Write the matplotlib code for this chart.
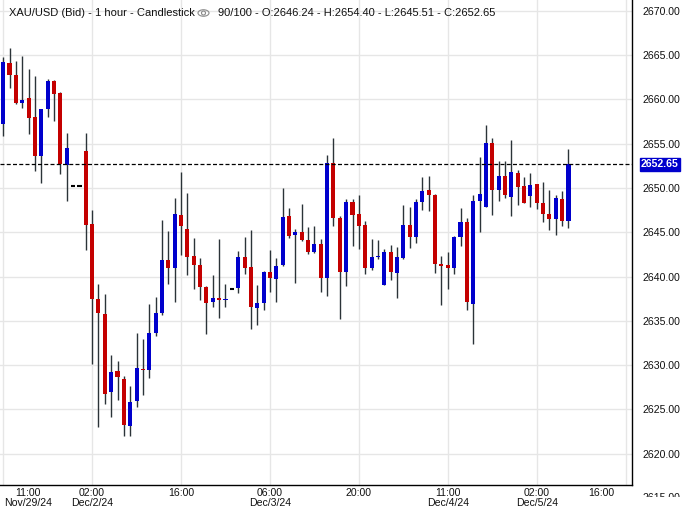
import matplotlib
matplotlib.use("Agg")
import matplotlib.pyplot as plt
from matplotlib.patches import Ellipse, Circle
from matplotlib.transforms import IdentityTransform, Bbox, ScaledTranslation, blended_transform_factory

plt.rcParams['font.family'] = ['Liberation Sans', 'DejaVu Sans']

# ---- data (1 hour candles, XAU/USD bid) ----
opens = [2657.24, 2664.10, 2662.74, 2659.57, 2660.14, 2657.99, 2653.62, 2658.93, 2662.06, 2660.74,
         2652.64, 2650.27, 2650.27, 2654.15, 2645.90, 2637.42, 2635.72, 2626.94, 2629.39, 2628.49,
         2623.10, 2625.93, 2629.55, 2629.43, 2633.61, 2635.87, 2641.83, 2640.96, 2646.91, 2645.33,
         2642.28, 2641.26, 2638.78, 2637.12, 2637.53, 2637.38, 2638.62, 2638.66, 2642.17, 2641.04,
         2636.44, 2637.00, 2640.47, 2639.72, 2641.26, 2646.80, 2644.65, 2644.99, 2644.09, 2642.77,
         2643.64, 2639.83, 2652.79, 2646.57, 2640.51, 2648.38, 2647.03, 2645.78, 2640.96, 2642.20,
         2639.04, 2642.73, 2640.40, 2642.09, 2645.78, 2644.46, 2648.38, 2649.74, 2649.17, 2641.36,
         2641.26, 2640.92, 2644.46, 2646.12, 2636.89, 2648.50, 2647.82, 2655.05, 2649.74, 2651.32,
         2648.95, 2651.66, 2650.19, 2649.06, 2650.42, 2648.27, 2647.03, 2646.46, 2648.72, 2646.24]
highs = [2664.77, 2665.79, 2664.32, 2664.89, 2663.42, 2662.63, 2658.90, 2662.32, 2662.21, 2660.86,
         2656.18, 2650.27, 2650.27, 2656.18, 2647.48, 2639.15, 2637.98, 2631.09, 2630.52, 2628.72,
         2627.70, 2633.58, 2632.94, 2636.85, 2637.65, 2646.35, 2645.11, 2648.84, 2651.81, 2649.40,
         2644.31, 2642.05, 2638.93, 2640.13, 2644.20, 2639.11, 2638.62, 2642.84, 2644.43, 2645.22,
         2639.00, 2640.58, 2642.96, 2642.05, 2649.97, 2647.71, 2645.33, 2648.16, 2645.56, 2645.67,
         2644.20, 2653.70, 2655.62, 2646.80, 2648.72, 2648.72, 2649.17, 2646.24, 2644.20, 2644.09,
         2643.07, 2643.52, 2643.30, 2648.04, 2647.82, 2648.72, 2651.21, 2651.32, 2649.29, 2642.28,
         2642.73, 2644.54, 2647.71, 2646.57, 2649.17, 2653.47, 2657.09, 2655.62, 2653.02, 2653.02,
         2655.39, 2652.00, 2651.21, 2651.66, 2650.42, 2650.64, 2649.74, 2649.17, 2649.63, 2654.40]
lows = [2655.88, 2661.31, 2659.46, 2659.01, 2656.11, 2651.93, 2650.57, 2658.03, 2657.54, 2651.59,
        2648.53, 2650.27, 2650.27, 2643.00, 2630.11, 2622.99, 2625.59, 2624.12, 2626.12, 2621.97,
        2621.97, 2625.25, 2626.64, 2628.53, 2633.27, 2635.61, 2639.15, 2637.12, 2642.43, 2640.17,
        2638.59, 2637.34, 2633.50, 2636.55, 2635.31, 2636.55, 2638.62, 2638.13, 2640.28, 2634.07,
        2634.52, 2636.21, 2638.25, 2637.12, 2641.19, 2644.35, 2639.27, 2644.01, 2642.54, 2642.66,
        2638.25, 2637.80, 2645.71, 2635.20, 2638.93, 2643.45, 2643.11, 2640.28, 2640.73, 2641.98,
        2639.04, 2639.60, 2637.57, 2641.98, 2643.22, 2643.79, 2647.52, 2647.37, 2640.36, 2636.78,
        2638.55, 2640.25, 2643.45, 2636.18, 2632.37, 2644.99, 2647.82, 2646.91, 2648.50, 2648.84,
        2646.80, 2648.04, 2648.27, 2647.82, 2647.59, 2646.12, 2645.22, 2644.65, 2645.67, 2645.51]
closes = [2664.17, 2662.78, 2659.57, 2659.91, 2657.92, 2653.62, 2658.90, 2662.06, 2660.59, 2652.68,
          2654.49, 2650.27, 2650.27, 2645.82, 2637.46, 2635.87, 2626.72, 2629.28, 2628.64, 2623.21,
          2625.89, 2629.73, 2629.40, 2633.58, 2635.84, 2641.83, 2640.96, 2647.03, 2645.71, 2642.20,
          2641.30, 2638.81, 2637.00, 2637.53, 2637.31, 2637.50, 2638.62, 2642.17, 2640.96, 2636.55,
          2636.97, 2640.47, 2639.83, 2641.15, 2646.69, 2644.54, 2644.99, 2644.13, 2642.77, 2643.64,
          2639.83, 2652.79, 2646.61, 2640.51, 2648.38, 2646.95, 2645.71, 2640.96, 2642.17, 2642.35,
          2642.73, 2640.51, 2642.17, 2645.78, 2644.46, 2648.38, 2649.63, 2649.21, 2641.38, 2641.22,
          2640.92, 2644.43, 2646.12, 2637.08, 2648.50, 2649.29, 2655.05, 2649.74, 2651.32, 2649.17,
          2651.77, 2650.08, 2648.27, 2650.31, 2648.27, 2647.03, 2646.46, 2648.84, 2646.24, 2652.65]

tick_labels = ["11:00\nNov/29/24", "02:00\nDec/2/24", "16:00", "06:00\nDec/3/24",
               "20:00", "11:00\nDec/4/24", "02:00\nDec/5/24", "16:00"]
bars_per_tick = 14
y_ticks = [2620, 2625, 2630, 2635, 2640, 2645, 2650, 2655, 2660, 2665, 2670]
last_price = closes[-1]

title_left = "XAU/USD (Bid) - 1 hour - Candlestick"
title_right = "90/100 - O:{:.2f} - H:{:.2f} - L:{:.2f} - C:{:.2f}".format(
    opens[-1], highs[-1], lows[-1], closes[-1])

UP = "#0000cc"
DOWN = "#c40000"
WICK = "#2b3338"
GRID = "#e6e6e6"

W, H = 688, 509
fig = plt.figure(figsize=(W / 100, H / 100), dpi=100)
ax = fig.add_axes([0, 24 / H, 632 / W, 1 - 24 / H])

n = len(opens)
xs = list(range(n))
ax.set_xlim(-0.5, 99.0)
ax.set_ylim(2616.47, 2671.21)

# grid
ax.set_yticks(y_ticks)
ax.set_xticks(list(range(0, 100, bars_per_tick)))
ax.grid(True, color=GRID, linewidth=1.0, zorder=0)
ax.set_axisbelow(True)

# wicks
ax.vlines(xs, lows, highs, color=WICK, linewidth=1.0, zorder=2)
# bodies
for i in range(n):
    o, c = opens[i], closes[i]
    if c > o:
        ax.bar(i, c - o, bottom=o, width=0.64, color=UP, linewidth=0, zorder=3)
    elif c < o:
        ax.bar(i, o - c, bottom=c, width=0.64, color=DOWN, linewidth=0, zorder=3)
    else:
        ax.hlines(o, i - 0.36, i + 0.36, color="black", linewidth=1.5, zorder=3)

# last price line
ax.axhline(last_price, color="black", linewidth=0.9, dashes=(3.2, 1.8), zorder=4)

# spines
for s in ("left", "top"):
    ax.spines[s].set_visible(False)
ax.spines["right"].set_color("black")
ax.spines["bottom"].set_color("black")
ax.spines["right"].set_linewidth(1.0)
ax.spines["bottom"].set_linewidth(1.0)

# y tick labels on right
ax.yaxis.tick_right()
ax.set_yticklabels(["{:.2f}".format(v) for v in y_ticks])
ax.tick_params(axis="y", length=0, pad=7.5, labelsize=7.6, labelcolor="#111111")
ax.tick_params(axis="x", length=0, pad=2.5, labelsize=7.6, labelcolor="#111111")
ax.set_xticklabels(tick_labels, linespacing=0.95)
xl = ax.get_xticklabels()
xl[0].set_transform(xl[0].get_transform() + ScaledTranslation(25 / 100, 0, fig.dpi_scale_trans))
xl[-1].set_transform(xl[-1].get_transform() + ScaledTranslation(-24 / 100, 0, fig.dpi_scale_trans))
for t in ax.get_yticklabels():
    t.set_horizontalalignment("left")

# partially visible bottom label (2615.00)
tr = blended_transform_factory(ax.transAxes, ax.transData)
t15 = ax.text(1.0, 2615, "2615.00", transform=tr, fontsize=7.6, color="#111111",
              ha="left", va="center")
t15.set_transform(tr + ScaledTranslation(10.4 / 100, 0, fig.dpi_scale_trans))
t15.set_clip_on(True)
t15.set_clip_box(Bbox([[632, 12], [688, 24]]))

# last price tag
tag = ax.text(1.0, last_price, "{:.2f}".format(last_price), transform=tr,
              fontsize=7.6, color="white", fontweight="bold", ha="left", va="center",
              bbox=dict(boxstyle="square,pad=0.12", facecolor=UP, edgecolor=UP), zorder=6)
tag.set_transform(tr + ScaledTranslation(9.0 / 100, 0, fig.dpi_scale_trans))
tag.set_clip_on(False)

# title
fig.text(9 / W, 1 - 13 / H, title_left, fontsize=8, color="#111111", va="center", ha="left")
fig.text(218 / W, 1 - 13 / H, title_right, fontsize=8, color="#111111", va="center", ha="left")
eye = Ellipse((203.5, H - 13), 11, 6.5, transform=IdentityTransform(), fill=False,
              edgecolor="#8a8a8a", linewidth=0.8)
pupil = Circle((203.5, H - 13), 2.0, transform=IdentityTransform(), fill=False,
               edgecolor="#8a8a8a", linewidth=0.8)
fig.add_artist(eye)
fig.add_artist(pupil)

fig.savefig("out.png", dpi=100, facecolor="white")
